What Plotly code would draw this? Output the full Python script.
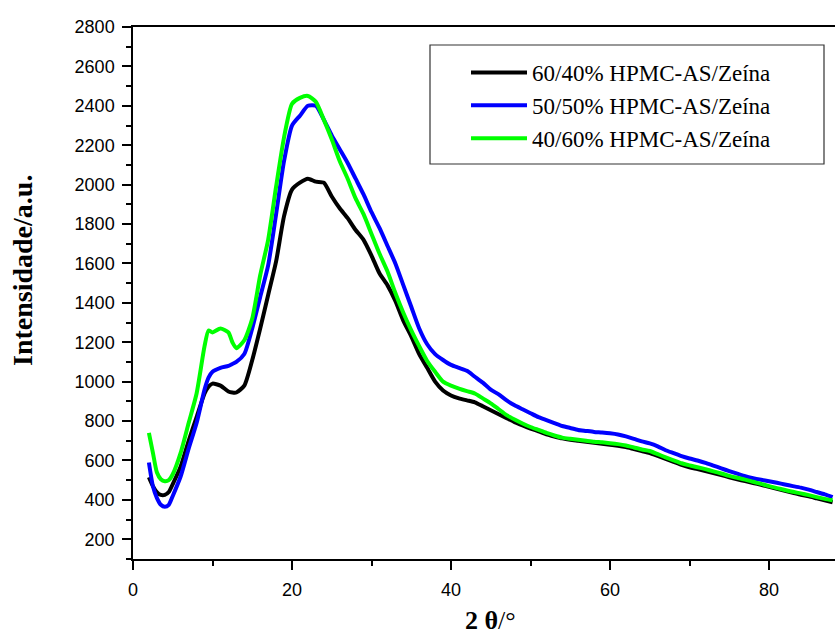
import plotly.graph_objects as go

# 2θ positions (degrees)
two_theta = [2, 2.5, 3, 3.5, 4, 4.5, 5, 6, 7, 8, 9, 9.5, 10, 11, 12, 12.5, 13, 14, 15, 16, 17, 18, 19, 20,
             21, 22, 23, 24, 25, 26, 27, 28, 29, 30, 31, 32, 33, 34, 35, 36, 37, 38, 39, 40,
             41, 42, 43, 44, 45, 46, 47, 48, 49, 50, 51, 52, 53, 54, 55, 56, 57, 58, 59, 60,
             61, 62, 63, 64, 65, 66, 67, 68, 69, 70, 71, 72, 73, 74, 75, 76, 77, 78, 79, 80,
             81, 82, 83, 84, 85, 86, 87, 88]

# 60/40% HPMC-AS/Zeína (black)
int_60_40 = [515, 470, 440, 425, 425, 440, 480, 570, 700, 820, 940, 975, 990, 980, 950, 945, 945, 980, 1110, 1270, 1440, 1610, 1840, 1975,
             2010, 2030, 2015, 2010, 1940, 1880, 1830, 1770, 1720, 1640, 1550, 1490, 1410, 1310, 1230, 1140, 1070, 1000, 955, 930,
             915, 905, 895, 875, 855, 835, 815, 795, 778, 762, 748, 733, 722, 712, 705, 700, 695, 690, 685, 680,
             675, 668, 658, 648, 638, 623, 608, 593, 578, 565, 556, 546, 536, 526, 515, 505, 495, 486, 476, 466,
             456, 446, 436, 426, 418, 408, 398, 388]

# 50/50% HPMC-AS/Zeína (blue)
int_50_50 = [590, 470, 410, 375, 365, 375, 420, 520, 660, 790, 960, 1020, 1050, 1070, 1080, 1090, 1100, 1140, 1270, 1430, 1590, 1850, 2120, 2300,
             2350, 2400, 2400, 2330, 2250, 2180, 2110, 2030, 1950, 1860, 1780, 1690, 1600, 1490, 1380, 1270, 1190, 1140, 1110, 1085,
             1070, 1055, 1025, 995, 960, 935, 905, 880, 860, 840, 820, 805, 790, 775, 765, 755, 750, 745, 742, 738,
             732, 722, 710, 697, 687, 672, 652, 637, 622, 610, 600, 588, 574, 560, 546, 533, 520, 510, 502, 495,
             487, 478, 470, 462, 452, 440, 428, 414]

# 40/60% HPMC-AS/Zeína (green)
int_40_60 = [740, 640, 540, 505, 495, 500, 530, 640, 790, 940, 1180, 1260, 1250, 1270, 1250, 1200, 1170, 1210, 1320, 1540, 1720, 1990, 2240, 2410,
             2440, 2450, 2420, 2330, 2230, 2120, 2030, 1930, 1850, 1750, 1650, 1560, 1450, 1350, 1260, 1180, 1105, 1050, 1000, 980,
             965, 952, 940, 915, 890, 860, 830, 808, 788, 770, 755, 740, 727, 716, 710, 705, 700, 695, 692, 688,
             683, 676, 666, 656, 648, 632, 616, 601, 586, 575, 566, 556, 545, 534, 522, 512, 503, 492, 481, 470,
             460, 450, 441, 433, 424, 414, 405, 398]

series = [
    ("60/40% HPMC-AS/Zeína", int_60_40, "#000000"),
    ("50/50% HPMC-AS/Zeína", int_50_50, "#0000FF"),
    ("40/60% HPMC-AS/Zeína", int_40_60, "#00FF00"),
]

fig = go.Figure()
for name, vals, color in series:
    fig.add_trace(go.Scatter(x=two_theta, y=vals, mode="lines", name=name,
                             line=dict(color=color, width=4, shape="spline", smoothing=0.6)))

axis_font = dict(family="Liberation Sans, Arial, sans-serif", size=18, color="black")
serif = "Liberation Serif, Times New Roman, serif"

W, H = 835, 637
L, R, T, B = 133, 0, 27, 78
pw, ph = W - L - R, H - T - B

def px(xp):
    return (xp - L) / pw

def py(yp):
    return (H - B - yp) / ph

fig.update_layout(
    width=W, height=H,
    margin=dict(l=L, r=R, t=T, b=B),
    paper_bgcolor="white", plot_bgcolor="white",
    showlegend=True,
    legend=dict(
        x=px(466), y=py(51), xanchor="left", yanchor="top",
        bgcolor="rgba(0,0,0,0)", borderwidth=0,
        font=dict(family=serif, size=23, color="black"),
        itemwidth=56, tracegroupgap=0,
    ),
    xaxis=dict(
        range=[0, 88.3], tick0=0, dtick=20, ticks="outside", ticklen=9, tickwidth=1.5,
        tickcolor="black", ticklabelstandoff=5,
        showline=True, linecolor="black", linewidth=1.5, mirror=True,
        showgrid=False, zeroline=False, tickfont=axis_font,
        minor=dict(dtick=10, ticks="outside", ticklen=5, tickwidth=1.5, tickcolor="black", showgrid=False),
    ),
    yaxis=dict(
        range=[100, 2800], tick0=0, dtick=200, ticks="outside", ticklen=9, tickwidth=1.5,
        tickcolor="black", ticklabelstandoff=4,
        showline=True, linecolor="black", linewidth=1.5,
        showgrid=False, zeroline=False, tickfont=axis_font,
        minor=dict(dtick=100, ticks="outside", ticklen=5, tickwidth=1.5, tickcolor="black", showgrid=False),
    ),
    shapes=[
        dict(type="rect", xref="paper", yref="paper",
             x0=px(430), x1=px(824), y0=py(164), y1=py(45),
             line=dict(color="#333333", width=1.2), fillcolor="rgba(0,0,0,0)", layer="above"),
    ],
    annotations=[
        dict(text="<b>Intensidade/a.u.</b>", xref="paper", yref="paper",
             x=px(22), y=py(271), xanchor="center", yanchor="middle", textangle=-90, showarrow=False,
             font=dict(family=serif, size=28, color="black")),
        dict(text="<b>2 θ</b>/°", xref="paper", yref="paper",
             x=px(490), y=py(620), xanchor="center", yanchor="middle", showarrow=False,
             font=dict(family=serif, size=26, color="black")),
    ],
)

fig.write_html("out.html")
